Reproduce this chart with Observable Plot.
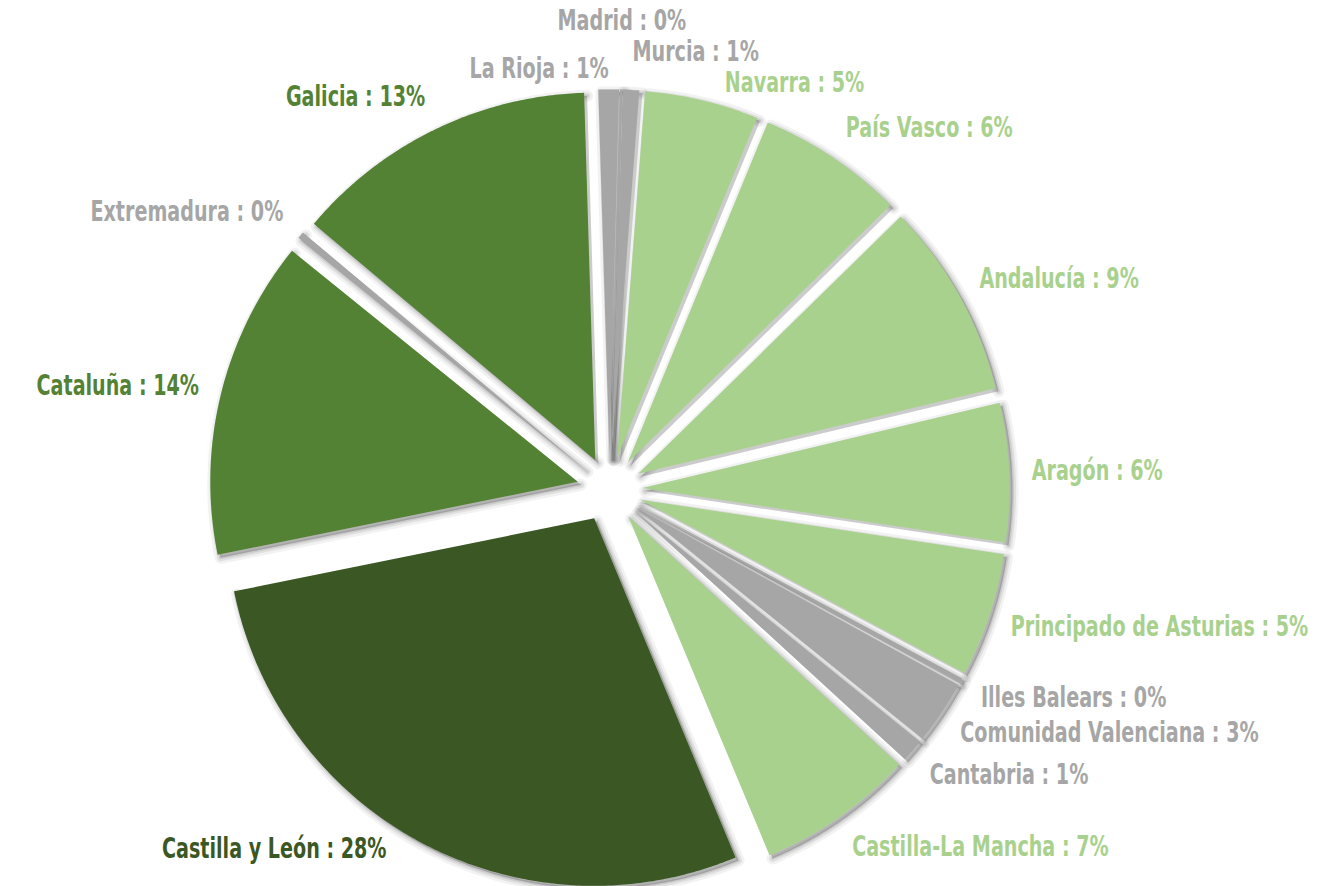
<!DOCTYPE html>
<html><head><meta charset="utf-8">
<script src="https://cdn.jsdelivr.net/npm/d3@7"></script>
<script src="https://cdn.jsdelivr.net/npm/@observablehq/plot@0.6"></script>
<style>
html,body{margin:0;padding:0;background:#fff;}
#chart svg{display:block;}
</style></head><body><div id="chart"></div>
<script>
// ---- data (clockwise order, as in the reference) ----
const regions = ["Andalucía","Aragón","Principado de Asturias","Illes Balears","Comunidad Valenciana","Cantabria","Castilla-La Mancha","Castilla y León","Cataluña","Extremadura","Galicia","La Rioja","Madrid","Murcia","Navarra","País Vasco"];
const shares  = [8.6, 6.1, 5.45, 0.2, 2.8, 1.0, 6.9, 28.1, 14.0, 0.3, 13.4, 0.9, 0.1, 0.7, 5.0, 6.45];
const colorThresholds = [4, 10, 20];
const colorRange = ["#A6A6A6", "#A9D18E", "#548235", "#3A5724"];

// ---- layout ----
const W = 1317, H = 886;
const cx = 609, cy = 489;      // pie centre (px)
const k = 3.75;                // px per unit
const R = 98, explode = 8.7;   // radius and explosion (units)
const startAngle = 45.6;       // degrees clockwise from 12 o'clock where the first slice begins
const fs = 29, squeeze = 0.66; // label type size and horizontal condensing
const pad = 6, halfH = 14 / k, spacing = 31 / k, gapX = 6 / k;
const yTop = (cy - 20) / k, yBottom = (cy - (H - 38)) / k;
const font = "'DejaVu Sans',sans-serif";

const rad = d => d * Math.PI / 180;
const total = d3.sum(shares);
let acc = startAngle;
const slices = regions.map((name, i) => {
  const a0 = acc, a1 = acc + shares[i] / total * 360; acc = a1;
  return {name, value: shares[i], a0, a1, mid: (a0 + a1) / 2};
});

// polygon points of each exploded slice
const pts = [];
for (const s of slices) {
  const ox = explode * Math.sin(rad(s.mid)), oy = explode * Math.cos(rad(s.mid));
  pts.push({name: s.name, value: s.value, x: ox, y: oy});
  const n = Math.max(2, Math.ceil((s.a1 - s.a0) / 0.5));
  for (let j = 0; j <= n; j++) {
    const a = s.a0 + (s.a1 - s.a0) * j / n;
    pts.push({name: s.name, value: s.value, x: ox + R * Math.sin(rad(a)), y: oy + R * Math.cos(rad(a))});
  }
}

// outside labels
const ctx = document.createElement("canvas").getContext("2d");
ctx.font = `bold ${fs}px 'DejaVu Sans'`;
const labels = slices.map(s => {
  const Rl = R + explode + pad;
  const sn = Math.sin(rad(s.mid)), cs = Math.cos(rad(s.mid));
  const y0 = Rl * cs + halfH * cs;
  const text = `${s.name} : ${Math.round(s.value)}%`;
  const anchor = (Math.round(s.value) === 0 && Math.abs(sn) < 0.05) ? "middle" : (sn >= 0 ? "start" : "end");
  return {name: s.name, value: s.value, text, anchor, sn, side: sn >= 0 ? 1 : -1, Rl,
    x: Rl * sn, y: y0, y0, w: ctx.measureText(text).width * squeeze / k};
});
const box = d => d.anchor === "start" ? [d.x, d.x + d.w] : d.anchor === "end" ? [d.x - d.w, d.x] : [d.x - d.w / 2, d.x + d.w / 2];
const rank = d => d.y + (d.anchor === "middle" ? 1000 : 0);
for (let it = 0; it < 500; it++) {
  for (let i = 0; i < labels.length; i++) for (let j = i + 1; j < labels.length; j++) {
    const a = labels[i], b = labels[j];
    const [a0, a1] = box(a), [b0, b1] = box(b);
    if (a0 > b1 + gapX || b0 > a1 + gapX) continue;
    const [hi, lo] = rank(a) >= rank(b) ? [a, b] : [b, a];
    const diff = hi.y - lo.y;
    if (diff < spacing) { const d = (spacing - diff) / 2; hi.y += d; lo.y -= d; }
  }
  for (const d of labels) d.y = Math.max(yBottom, Math.min(yTop, d.y));
}
for (const d of labels) {
  if (d.anchor !== "middle" && Math.abs(d.sn) > 0.1 && Math.abs(d.y - d.y0) > 0.01 && Math.abs(d.y) <= d.Rl)
    d.x = d.side * Math.sqrt(d.Rl * d.Rl - d.y * d.y);
}

const textOpts = a => ({x: "x", y: "y", text: "text", fill: "value", textAnchor: a,
  fontSize: fs, fontWeight: "bold", fontFamily: font, filter: d => d.anchor === a});

// soft shadow built from translucent offset copies of the slices
const shadow = (w, op) => Plot.line(pts, {x: "x", y: "y", z: "name", fill: "#000", fillOpacity: op,
  stroke: "#000", strokeOpacity: op, strokeWidth: w, strokeLinejoin: "round", dx: 3, dy: 3});

const chart = Plot.plot({
  width: W, height: H, margin: 0,
  x: {domain: [(0 - cx) / k, (W - cx) / k], axis: null},
  y: {domain: [(cy - H) / k, cy / k], axis: null},
  color: {type: "threshold", domain: colorThresholds, range: colorRange},
  style: {background: "#fff"},
  marks: [
    shadow(12, 0.05),
    shadow(7, 0.07),
    shadow(3, 0.09),
    Plot.line(pts, {x: "x", y: "y", z: "name", fill: "value", stroke: "none"}),
    Plot.text(labels, textOpts("start")),
    Plot.text(labels, textOpts("end")),
    Plot.text(labels, textOpts("middle"))
  ]
});
document.getElementById("chart").appendChild(chart);
// condense the label type horizontally around each label's anchor point
chart.querySelectorAll('g[aria-label="text"] text').forEach(t => {
  const tr = t.getAttribute("transform") || "";
  t.setAttribute("transform", `${tr} scale(${squeeze},1)`);
});
</script></body></html>
